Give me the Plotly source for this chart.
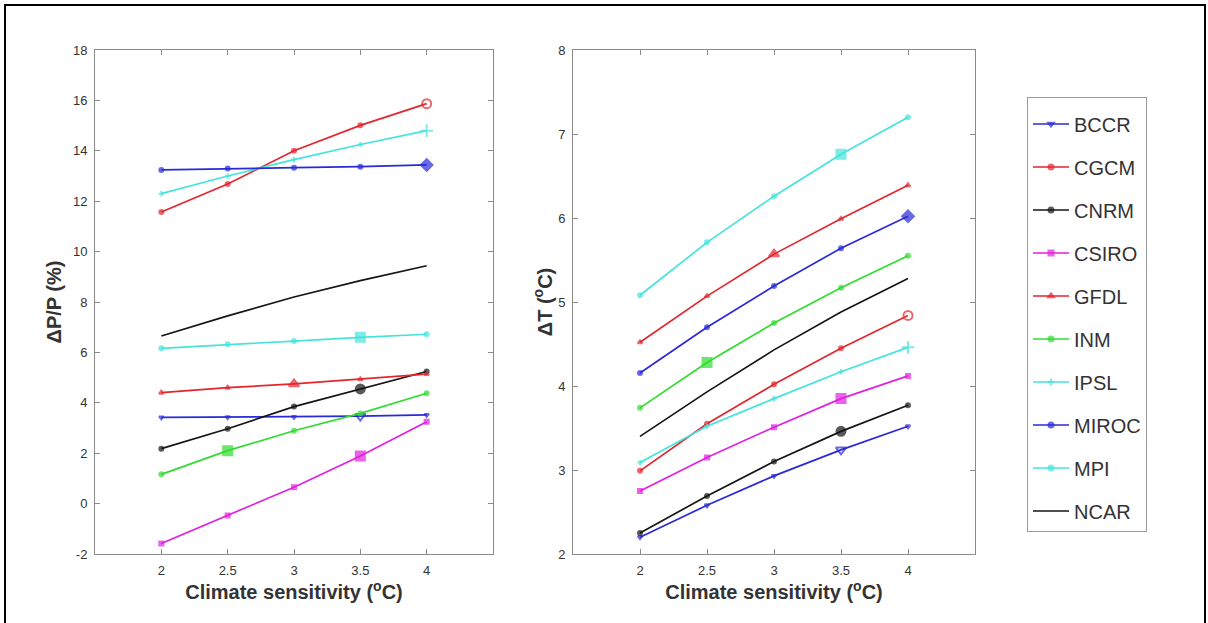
import plotly.graph_objects as go

# Climate sensitivity values (degC) shared by both panels
sensitivity = [2.0, 2.5, 3.0, 3.5, 4.0]

models = ["BCCR", "CGCM", "CNRM", "CSIRO", "GFDL", "INM", "IPSL", "MIROC", "MPI", "NCAR"]

# Precipitation change dP/P (%)
dpp_bccr = [3.42, 3.43, 3.44, 3.47, 3.52]
dpp_cgcm = [11.57, 12.68, 14.0, 15.01, 15.87]
dpp_cnrm = [2.18, 2.97, 3.85, 4.55, 5.24]
dpp_csiro = [-1.58, -0.47, 0.65, 1.89, 3.25]
dpp_gfdl = [4.4, 4.6, 4.75, 4.93, 5.14]
dpp_inm = [1.16, 2.1, 2.89, 3.58, 4.38]
dpp_ipsl = [12.3, 13.0, 13.65, 14.25, 14.8]
dpp_miroc = [13.24, 13.3, 13.33, 13.37, 13.44]
dpp_mpi = [6.16, 6.32, 6.45, 6.6, 6.72]
dpp_ncar = [6.65, 7.45, 8.2, 8.85, 9.44]

# Temperature change dT (degC)
dt_bccr = [2.2, 2.58, 2.93, 3.24, 3.52]
dt_cgcm = [2.99, 3.55, 4.02, 4.45, 4.84]
dt_cnrm = [2.25, 2.69, 3.1, 3.46, 3.77]
dt_csiro = [2.75, 3.15, 3.51, 3.85, 4.12]
dt_gfdl = [4.52, 5.07, 5.57, 5.99, 6.39]
dt_inm = [3.74, 4.28, 4.75, 5.17, 5.55]
dt_ipsl = [3.09, 3.52, 3.85, 4.17, 4.46]
dt_miroc = [4.155, 4.7, 5.19, 5.64, 6.02]
dt_mpi = [5.08, 5.71, 6.26, 6.76, 7.2]
dt_ncar = [3.4, 3.93, 4.43, 4.88, 5.28]

# Axis tick labels
xtick_vals = [2, 2.5, 3, 3.5, 4]
xtick_text = ["2", "2.5", "3", "3.5", "4"]
ytick_vals_p = [-2, 0, 2, 4, 6, 8, 10, 12, 14, 16, 18]
ytick_text_p = ["-2", "0", "2", "4", "6", "8", "10", "12", "14", "16", "18"]
ytick_vals_t = [2, 3, 4, 5, 6, 7, 8]
ytick_text_t = ["2", "3", "4", "5", "6", "7", "8"]

dpp = [dpp_bccr, dpp_cgcm, dpp_cnrm, dpp_csiro, dpp_gfdl,
       dpp_inm, dpp_ipsl, dpp_miroc, dpp_mpi, dpp_ncar]
dt = [dt_bccr, dt_cgcm, dt_cnrm, dt_csiro, dt_gfdl,
      dt_inm, dt_ipsl, dt_miroc, dt_mpi, dt_ncar]

colors = ["#2a2ad8", "#e3262e", "#151515", "#e020e0", "#e3262e",
          "#30dc30", "#44e4dc", "#2a2ad8", "#44e4dc", "#151515"]

# marker style per model: (symbol, highlighted symbol, index of highlighted point)
styles = [
    ("triangle-down", "triangle-down-open", 3),
    ("circle", "circle-open", 4),
    ("circle", "circle", 3),
    ("square", "square", 3),
    ("triangle-up", "triangle-up", 2),
    ("circle", "square", 1),
    ("cross-thin-open", "cross-thin-open", 4),
    ("circle", "diamond", 4),
    ("circle", "square", 3),
    (None, None, None),
]

fig = go.Figure()

for i, name in enumerate(models):
    sym, big_sym, big_idx = styles[i]
    for panel, (vals, xa, ya) in enumerate([(dpp[i], "x", "y"), (dt[i], "x2", "y2")]):
        if sym is None:
            mode = "lines"
            marker = None
        else:
            mode = "lines+markers"
            sizes = [4] * len(sensitivity)
            symbols = [sym] * len(sensitivity)
            sizes[big_idx] = 9
            symbols[big_idx] = big_sym
            marker = dict(symbol=symbols, size=sizes, color=colors[i],
                          line=dict(color=colors[i], width=2))
        fig.add_trace(go.Scatter(
            x=sensitivity, y=vals, name=name, mode=mode,
            line=dict(color=colors[i], width=1.7),
            marker=marker, xaxis=xa, yaxis=ya,
            legendgroup=name, showlegend=(panel == 0),
        ))

axis_common = dict(
    showline=True, linecolor="#8a8a8a", linewidth=1, mirror="ticks",
    ticks="inside", ticklen=5, tickcolor="#8a8a8a", showgrid=False,
    zeroline=False, ticklabelstandoff=4,
    tickfont=dict(family="Liberation Sans, Arial", size=13, color="#333"),
)
title_font = dict(family="Liberation Sans, Arial", size=20, color="#333")

fig.update_layout(
    width=1208, height=623,
    margin=dict(l=0, r=0, t=0, b=0, autoexpand=False),
    paper_bgcolor="white", plot_bgcolor="white",
    font=dict(family="Liberation Sans, Arial"),
    xaxis=dict(domain=[95 / 1208, 493 / 1208], range=[1.5, 4.5], anchor="y",
               tickvals=xtick_vals, ticktext=xtick_text,
               title=dict(text="<b>Climate sensitivity (<sup>o</sup>C)</b>", font=title_font, standoff=7),
               **axis_common),
    yaxis=dict(domain=[69 / 623, 573 / 623], range=[-2, 18], anchor="x",
               tickvals=ytick_vals_p, ticktext=ytick_text_p,
               title=dict(text="<b>ΔP/P (%)</b>", font=title_font, standoff=5),
               **axis_common),
    xaxis2=dict(domain=[573 / 1208, 975 / 1208], range=[1.5, 4.5], anchor="y2",
                tickvals=xtick_vals, ticktext=xtick_text,
                title=dict(text="<b>Climate sensitivity (<sup>o</sup>C)</b>", font=title_font, standoff=7),
                **axis_common),
    yaxis2=dict(domain=[69 / 623, 573 / 623], range=[2, 8], anchor="x2",
                tickvals=ytick_vals_t, ticktext=ytick_text_t,
                title=dict(text="<b>ΔT (<sup>o</sup>C)</b>", font=title_font, standoff=0),
                **axis_common),
    legend=dict(
        x=1027 / 1208, y=526 / 623, xanchor="left", yanchor="top",
        bgcolor="white", bordercolor="#9a9a9a", borderwidth=1,
        font=dict(family="Liberation Sans, Arial", size=20, color="#333"),
        title=dict(text=" ", font=dict(size=5)),
        tracegroupgap=14, itemwidth=36,
    ),
    shapes=[dict(type="rect", xref="paper", yref="paper",
                 x0=5 / 1208, x1=1205 / 1208, y0=-0.05, y1=618 / 623,
                 line=dict(color="black", width=2), fillcolor="rgba(0,0,0,0)")],
)

fig.write_html("out.html")
